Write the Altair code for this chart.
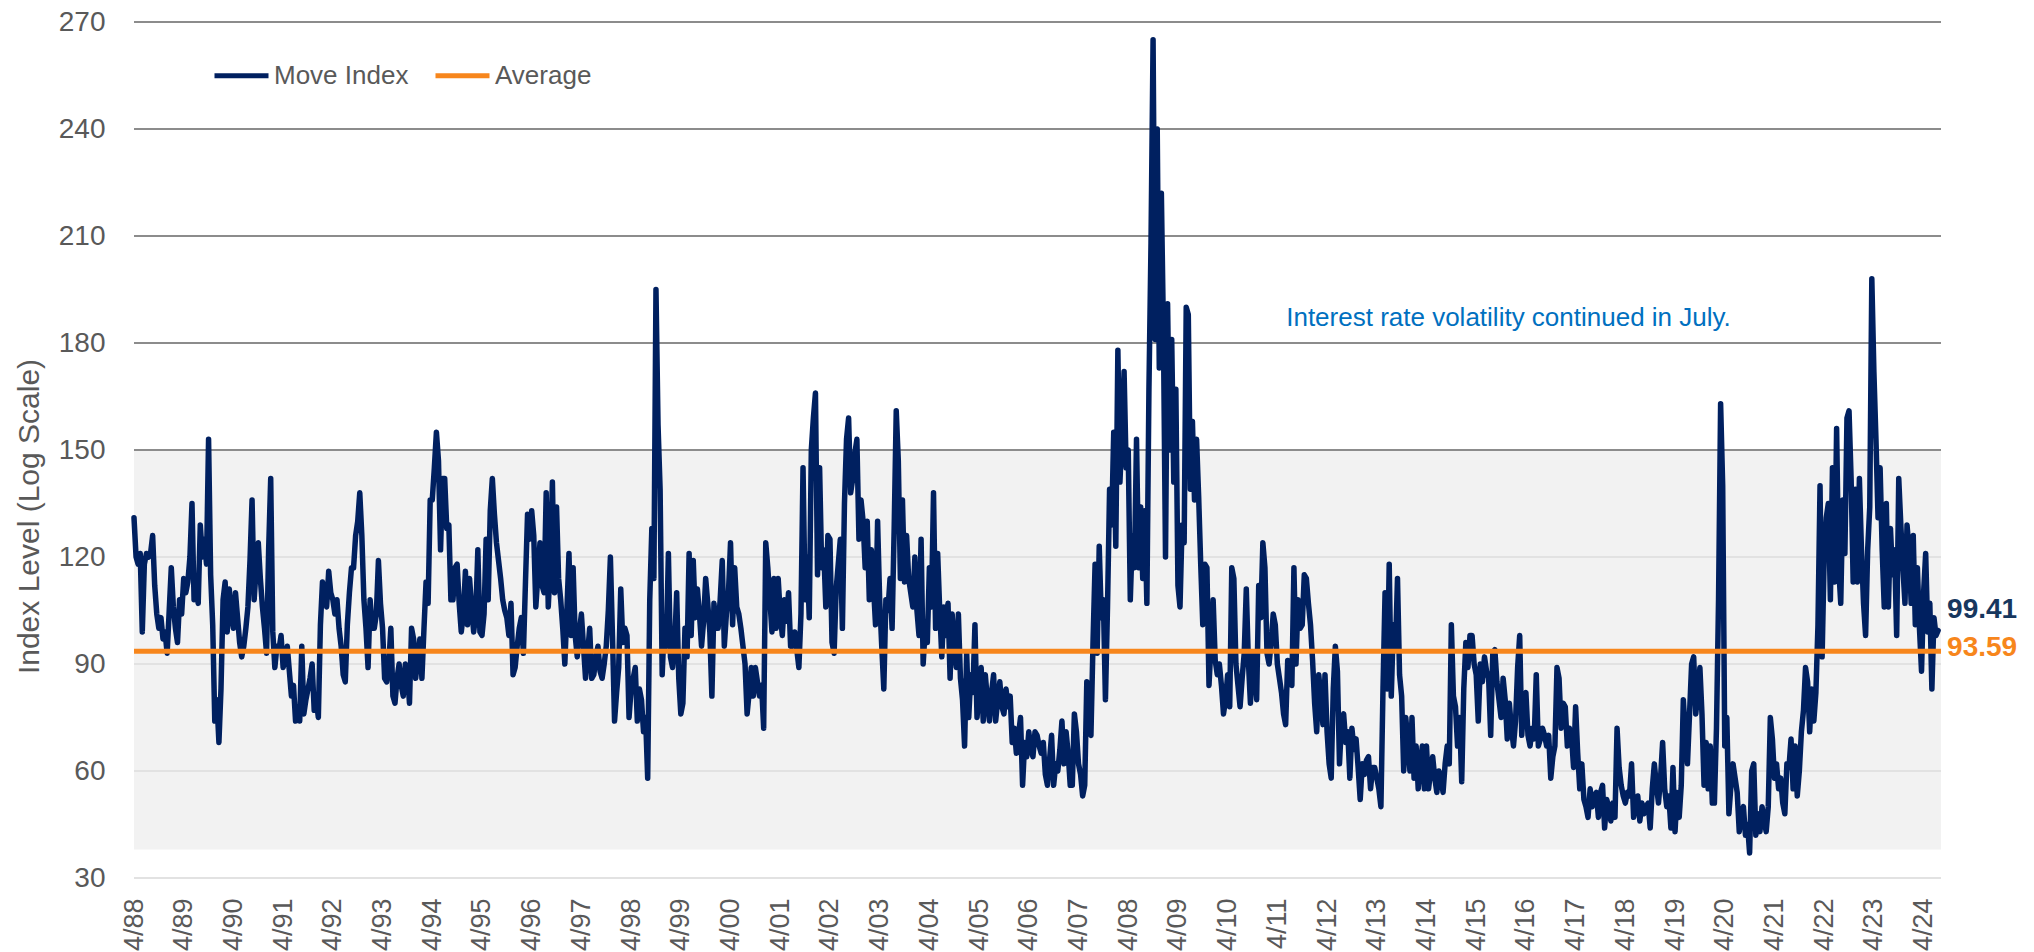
import altair as alt
import pandas as pd

# ---- MOVE index, two readings per month (1st half / 2nd half) ----
move_1988 = [131, 120, 118, 121, 99, 118, 121, 120, 121, 126, 112, 104, 100, 103, 97, 99, 93, 105]
move_1989 = [117, 106, 100, 96, 108, 104, 114, 110, 113, 120, 135, 108, 112, 107, 129, 120, 125, 118, 153, 115, 101, 74, 80, 68]
move_1990 = [83, 108, 113, 99, 111, 104, 100, 110, 103, 96, 92, 95, 100, 106, 119, 136, 108, 117, 124, 114, 106, 100, 93, 122]
move_1991 = [142, 99, 89, 95, 94, 98, 89, 92, 95, 88, 81, 84, 74, 78, 74, 95, 76, 80, 83, 86, 90, 77, 80, 75]
move_1992 = [101, 113, 110, 106, 116, 110, 108, 104, 108, 100, 95, 87, 85, 101, 110, 117, 117, 126, 130, 138, 126, 108, 100, 89]
move_1993 = [108, 100, 100, 104, 119, 107, 100, 86, 85, 90, 100, 81, 79, 86, 90, 84, 81, 90, 88, 79, 100, 97, 86, 92]
move_1994 = [97, 86, 100, 113, 107, 136, 136, 145, 155, 147, 122, 142, 142, 128, 129, 108, 108, 117, 118, 107, 99, 104, 116, 101]
move_1995 = [114, 106, 99, 104, 122, 99, 98, 104, 125, 108, 133, 142, 132, 124, 119, 114, 108, 105, 103, 98, 107, 87, 89, 95]
move_1996 = [100, 103, 93, 113, 132, 125, 133, 126, 106, 115, 124, 112, 110, 138, 106, 118, 141, 110, 134, 114, 108, 100, 90, 105]
move_1997 = [121, 98, 117, 98, 92, 99, 104, 95, 86, 93, 100, 86, 87, 92, 95, 88, 86, 90, 95, 105, 120, 98, 74, 82]
move_1998 = [89, 111, 96, 100, 98, 75, 83, 86, 89, 74, 83, 80, 71, 75, 58, 108, 128, 114, 195, 157, 139, 87, 101, 95]
move_1999 = [121, 92, 89, 95, 110, 86, 76, 79, 100, 92, 121, 98, 119, 103, 111, 104, 95, 102, 114, 107, 99, 81, 107, 100]
move_2000 = [100, 108, 119, 95, 104, 110, 124, 101, 117, 106, 104, 100, 95, 90, 76, 82, 89, 81, 89, 85, 81, 84, 72, 124]
move_2001 = [117, 108, 99, 114, 100, 114, 104, 98, 108, 102, 110, 95, 95, 99, 94, 89, 104, 145, 108, 120, 103, 150, 159, 166]
move_2002 = [115, 145, 117, 122, 106, 126, 125, 96, 93, 111, 118, 125, 100, 135, 153, 159, 138, 142, 149, 153, 125, 136, 130, 117]
move_2003 = [130, 108, 122, 112, 101, 130, 108, 95, 83, 108, 105, 114, 100, 128, 161, 147, 114, 136, 113, 126, 114, 110, 106, 120]
move_2004 = [105, 98, 125, 90, 100, 96, 117, 106, 138, 100, 121, 105, 92, 106, 98, 107, 86, 104, 95, 89, 104, 86, 80, 67]
move_2005 = [93, 75, 87, 82, 101, 75, 82, 89, 74, 87, 80, 74, 82, 87, 74, 80, 85, 78, 76, 83, 78, 81, 68, 72]
move_2006 = [65, 70, 75, 56, 68, 64, 71, 66, 64, 71, 70, 67, 65, 68, 59, 56, 63, 70, 56, 62, 60, 66, 74, 62]
move_2007 = [71, 65, 56, 56, 76, 71, 62, 59, 53, 56, 85, 72, 70, 96, 118, 93, 123, 103, 108, 80, 106, 139, 129, 155]
move_2008 = [123, 178, 141, 155, 172, 145, 150, 108, 126, 117, 153, 117, 134, 114, 133, 107, 167, 208, 265, 181, 240, 173, 222, 183]
move_2009 = [120, 191, 150, 181, 141, 167, 112, 106, 129, 124, 190, 188, 139, 158, 136, 153, 137, 118, 101, 118, 117, 84, 96, 108]
move_2010 = [91, 87, 90, 84, 76, 80, 87, 78, 117, 114, 90, 84, 78, 86, 93, 111, 91, 79, 93, 88, 80, 112, 103, 124]
move_2011 = [117, 93, 90, 96, 104, 101, 90, 86, 82, 76, 73, 91, 90, 84, 117, 90, 108, 100, 101, 115, 114, 107, 101, 91]
move_2012 = [79, 71, 87, 80, 73, 87, 71, 62, 58, 83, 95, 88, 62, 74, 76, 68, 71, 58, 72, 66, 69, 61, 52, 62]
move_2013 = [59, 63, 64, 55, 61, 61, 58, 55, 50, 83, 110, 83, 118, 81, 101, 94, 114, 87, 81, 60, 75, 68, 60, 75]
move_2014 = [58, 67, 55, 62, 67, 55, 67, 55, 60, 64, 58, 54, 60, 58, 54, 62, 67, 62, 101, 81, 78, 67, 75, 57]
move_2015 = [83, 96, 89, 98, 98, 90, 87, 74, 90, 85, 92, 88, 86, 70, 93, 94, 85, 80, 75, 86, 80, 69, 79, 72]
move_2016 = [67, 74, 89, 98, 70, 80, 82, 70, 67, 72, 69, 87, 67, 69, 72, 70, 67, 70, 58, 64, 67, 89, 86, 72]
move_2017 = [79, 78, 67, 72, 70, 61, 78, 65, 55, 62, 52, 50, 47, 55, 50, 53, 54, 47, 54, 56, 44, 52, 50, 46]
move_2018 = [51, 47, 72, 61, 56, 53, 51, 54, 53, 62, 47, 51, 53, 46, 51, 48, 50, 51, 44, 55, 62, 56, 51, 58]
move_2019 = [68, 55, 50, 53, 44, 61, 43, 54, 47, 56, 80, 70, 62, 76, 90, 92, 76, 82, 89, 76, 56, 68, 55, 67]
move_2020 = [51, 51, 72, 108, 163, 140, 67, 75, 48, 56, 62, 58, 54, 43, 48, 50, 42, 45, 37, 60, 62, 42, 48, 43]
move_2021 = [50, 46, 43, 50, 75, 69, 58, 62, 55, 58, 51, 48, 62, 61, 69, 55, 67, 53, 60, 71, 77, 89, 85, 71]
move_2022 = [83, 74, 82, 101, 140, 92, 120, 131, 135, 108, 145, 113, 156, 117, 107, 136, 121, 159, 161, 142, 113, 139, 113, 142]
move_2023 = [122, 107, 98, 122, 134, 198, 172, 153, 131, 145, 122, 106, 135, 106, 128, 115, 122, 98, 142, 129, 117, 107, 129, 122]
move_2024 = [107, 126, 101, 117, 100, 88, 110, 121, 99, 107, 83, 103, 98, 99.41]

years = list(range(1988, 2025))
series_by_year = [move_1988, move_1989, move_1990, move_1991, move_1992, move_1993, move_1994,
                  move_1995, move_1996, move_1997, move_1998, move_1999, move_2000, move_2001,
                  move_2002, move_2003, move_2004, move_2005, move_2006, move_2007, move_2008,
                  move_2009, move_2010, move_2011, move_2012, move_2013, move_2014, move_2015,
                  move_2016, move_2017, move_2018, move_2019, move_2020, move_2021, move_2022,
                  move_2023, move_2024]

average_value = 93.59
last_value = 99.41
y_ticks = [30, 60, 90, 120, 150, 180, 210, 240, 270]
light_grid = [30, 60, 90, 120]
dark_grid = [150, 180, 210, 240, 270]
band_low, band_high = 38, 150
x_start, x_end = 1988.25, 2024.6
tick_years = [1988.25 + k for k in range(37)]
series_names = ["Move Index", "Average"]
annotation_text = "Interest rate volatility continued in July."
annotation_pos = (2015.9, 187)

NAVY = "#002060"
ORANGE = "#F7861C"
GRAY = "#595959"
FONT = "Liberation Sans, Arial, sans-serif"

rows = []
for yr, vals in zip(years, series_by_year):
    m0 = 4 if yr == 1988 else 1
    for i, v in enumerate(vals):
        rows.append({"t": yr + (m0 - 1) / 12 + i / 24, "value": v, "series": "Move Index"})
df = pd.DataFrame(rows)
last_t = df["t"].iloc[-1]

avg_df = pd.DataFrame({"t": [x_start, x_end], "value": [average_value, average_value],
                       "series": ["Average", "Average"]})
band_df = pd.DataFrame({"t": [x_start], "t2": [x_end], "value": [band_low], "value2": [band_high]})
light_df = pd.DataFrame({"t": [x_start] * len(light_grid), "t2": [x_end] * len(light_grid), "value": light_grid})
dark_df = pd.DataFrame({"t": [x_start] * len(dark_grid), "t2": [x_end] * len(dark_grid), "value": dark_grid})
lab_df = pd.DataFrame({"t": [last_t, last_t], "value": [last_value, average_value],
                       "label": [f"{last_value:.2f}", f"{average_value:.2f}"]})
ann_df = pd.DataFrame({"t": [annotation_pos[0]], "value": [annotation_pos[1]], "label": [annotation_text]})

x_axis = alt.Axis(values=tick_years,
                  labelExpr="'4/' + substring(format(floor(datum.value), 'd'), 2, 4)",
                  labelAngle=270, labelFont=FONT, labelFontSize=27, labelColor=GRAY,
                  labelPadding=20, ticks=False, tickSize=0, domain=False, grid=False,
                  labelOverlap=False, labelFlush=False, labelBound=False, title=None)
y_axis = alt.Axis(values=y_ticks, labelFont=FONT, labelFontSize=28, labelColor=GRAY,
                  labelPadding=29, ticks=False, tickSize=0, domain=False, grid=False,
                  title="Index Level (Log Scale)", titleFont=FONT, titleFontSize=30,
                  titleFontWeight="normal", titleColor=GRAY, titleAngle=270,
                  titleX=-96, titleY=494, titleAlign="center", titleBaseline="alphabetic")

X = alt.X("t:Q", scale=alt.Scale(domain=[x_start, x_end], nice=False, zero=False), axis=x_axis)
Y = alt.Y("value:Q", scale=alt.Scale(domain=[30, 270], nice=False, zero=False), axis=y_axis)

color = alt.Color("series:N",
                  scale=alt.Scale(domain=series_names, range=[NAVY, ORANGE]),
                  legend=alt.Legend(orient="none", legendX=78, legendY=24, direction="horizontal",
                                    title=None, symbolType="stroke", symbolSize=2916,
                                    symbolStrokeWidth=5, labelFont=FONT, labelFontSize=26,
                                    labelColor=GRAY, columnPadding=16, labelOffset=3))

band = alt.Chart(band_df).mark_rect(color="#F2F2F2").encode(x=X, x2="t2:Q", y=Y, y2="value2:Q")
light = alt.Chart(light_df).mark_rule(color="#E2E2E2", strokeWidth=2).encode(x=X, x2="t2:Q", y=Y)
dark = alt.Chart(dark_df).mark_rule(color="#8C8C8C", strokeWidth=2).encode(x=X, x2="t2:Q", y=Y)
line = alt.Chart(df).mark_line(strokeWidth=5.5, strokeJoin="round", strokeCap="round").encode(
    x=X, y=Y, color=color)
avg = alt.Chart(avg_df).mark_line(strokeWidth=5).encode(x=X, y=Y, color=color)
ann = alt.Chart(ann_df).mark_text(align="center", baseline="middle", font=FONT, fontSize=26,
                                  color="#0070C0").encode(x=X, y=Y, text="label:N")

lab1 = alt.Chart(lab_df.iloc[[0]]).mark_text(align="left", baseline="middle", dx=9, dy=-20, font=FONT,
                                             fontSize=28, fontWeight="bold", color="#17375E").encode(
    x=X, y=Y, text="label:N")
lab2 = alt.Chart(lab_df.iloc[[1]]).mark_text(align="left", baseline="middle", dx=9, dy=-3, font=FONT,
                                             fontSize=28, fontWeight="bold", color=ORANGE).encode(
    x=X, y=Y, text="label:N")

chart = alt.layer(band, light, dark, line, avg, lab1, lab2, ann).properties(
    width=1807, height=856,
    padding={"left": 126, "top": 14, "right": 85, "bottom": 74},
    autosize=alt.AutoSizeParams(type="none"),
    background="white",
).configure_view(stroke=None)

chart.save("out.html", embed_options={"renderer": "svg", "actions": False})
